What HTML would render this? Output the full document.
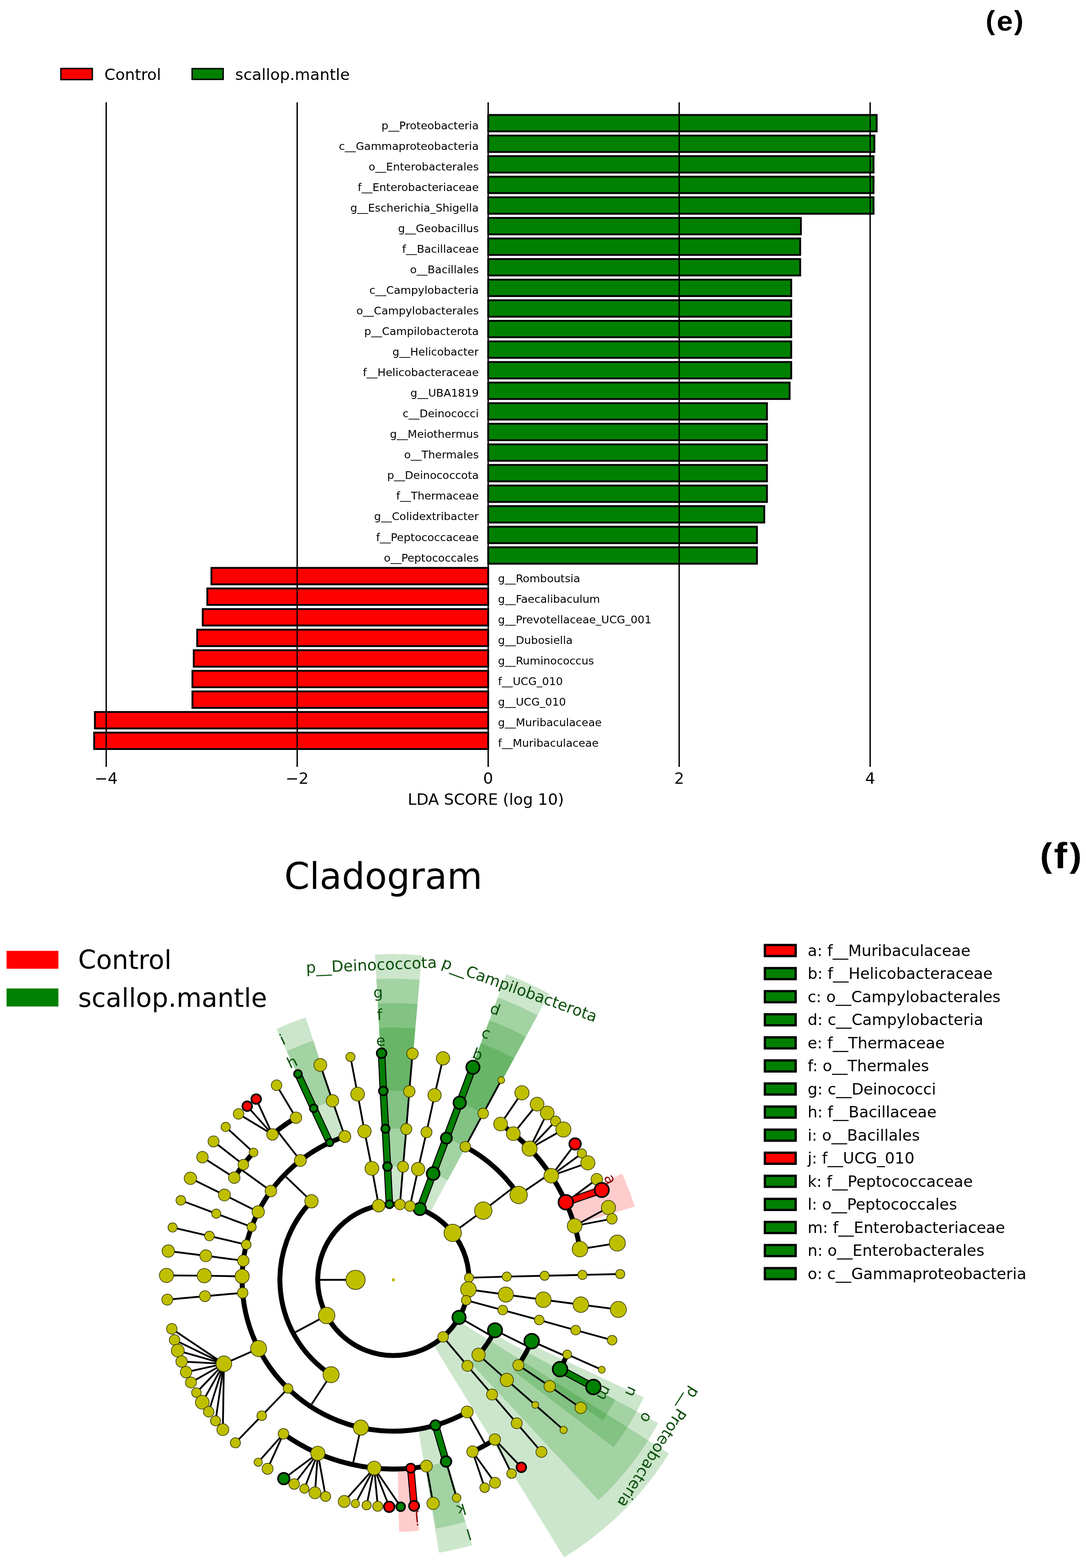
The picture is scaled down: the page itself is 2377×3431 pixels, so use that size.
<!DOCTYPE html>
<html><head><meta charset="utf-8"><title>LEfSe</title>
<style>html,body{margin:0;padding:0;background:#fff;}svg{display:block;}</style>
</head><body>
<svg xmlns="http://www.w3.org/2000/svg" width="2377" height="3431" viewBox="0 0 2377 3431">
<rect width="2377" height="3431" fill="#fff"/>
<g id="clado">
<path d="M875.43 2635.57 L923.14 2090.21 A713 713 0 0 0 820.7 2088.64 L851.64 2635.2 A165.56 165.56 0 0 1 875.43 2635.57 Z" fill="#008000" fill-opacity="0.2"/>
<path d="M882.64 2553.11 L918.44 2144.01 A659 659 0 0 0 823.75 2142.55 L846.96 2552.56 A248.34 248.34 0 0 1 882.64 2553.11 Z" fill="#008000" fill-opacity="0.2"/>
<path d="M889.86 2470.64 L913.77 2197.3 A605.5 605.5 0 0 0 826.78 2195.97 L842.29 2469.91 A331.12 331.12 0 0 1 889.86 2470.64 Z" fill="#008000" fill-opacity="0.2"/>
<path d="M897.07 2388.18 L909.11 2250.6 A552 552 0 0 0 829.8 2249.38 L837.61 2387.26 A413.9 413.9 0 0 1 897.07 2388.18 Z" fill="#008000" fill-opacity="0.2"/>
<path d="M940.25 2655.14 L1202.31 2174.5 A713 713 0 0 0 1108.37 2131.79 L918.44 2645.22 A165.56 165.56 0 0 1 940.25 2655.14 Z" fill="#008000" fill-opacity="0.2"/>
<path d="M979.88 2582.46 L1176.46 2221.91 A659 659 0 0 0 1089.63 2182.43 L947.16 2567.58 A248.34 248.34 0 0 1 979.88 2582.46 Z" fill="#008000" fill-opacity="0.2"/>
<path d="M1019.5 2509.78 L1150.85 2268.88 A605.5 605.5 0 0 0 1071.07 2232.61 L975.88 2489.95 A331.12 331.12 0 0 1 1019.5 2509.78 Z" fill="#008000" fill-opacity="0.2"/>
<path d="M1059.13 2437.1 L1125.24 2315.85 A552 552 0 0 0 1052.51 2282.79 L1004.6 2412.31 A413.9 413.9 0 0 1 1059.13 2437.1 Z" fill="#008000" fill-opacity="0.2"/>
<path d="M755.93 2486.49 L668.87 2226.29 A605.5 605.5 0 0 0 604.82 2251.86 L720.91 2500.48 A331.12 331.12 0 0 1 755.93 2486.49 Z" fill="#008000" fill-opacity="0.2"/>
<path d="M729.67 2407.99 L685.85 2277.03 A552 552 0 0 0 627.45 2300.34 L685.88 2425.47 A413.9 413.9 0 0 1 729.67 2407.99 Z" fill="#008000" fill-opacity="0.2"/>
<path d="M915.65 3127.08 L960.94 3397.7 A605.5 605.5 0 0 0 1033.48 3380.92 L955.32 3117.9 A331.12 331.12 0 0 1 915.65 3127.08 Z" fill="#008000" fill-opacity="0.2"/>
<path d="M930.74 3208.48 L954.01 3344.61 A552 552 0 0 0 1018.42 3329.58 L979.04 3197.21 A413.9 413.9 0 0 1 930.74 3208.48 Z" fill="#008000" fill-opacity="0.2"/>
<path d="M947.75 2941.51 L1234.6 3407.78 A713 713 0 0 0 1464.34 3180.44 L1001.1 2888.72 A165.56 165.56 0 0 1 947.75 2941.51 Z" fill="#008000" fill-opacity="0.2"/>
<path d="M1030.27 2982.21 L1310.18 3282.7 A659 659 0 0 0 1440.69 3113.94 L1079.45 2918.62 A248.34 248.34 0 0 1 1030.27 2982.21 Z" fill="#008000" fill-opacity="0.2"/>
<path d="M1124.75 3000.69 L1343.3 3166.58 A605.5 605.5 0 0 0 1409.1 3057.83 L1160.73 2941.22 A331.12 331.12 0 0 1 1124.75 3000.69 Z" fill="#008000" fill-opacity="0.2"/>
<path d="M1204.78 3030.99 L1319.49 3107.9 A552 552 0 0 0 1346.75 3062.71 L1225.22 2997.11 A413.9 413.9 0 0 1 1204.78 3030.99 Z" fill="#008000" fill-opacity="0.2"/>
<path d="M1257.03 2680.18 L1389.16 2640.03 A552 552 0 0 0 1361.69 2568.09 L1236.43 2626.23 A413.9 413.9 0 0 1 1257.03 2680.18 Z" fill="#ff0000" fill-opacity="0.2"/>
<path d="M870.39 3214.29 L873.52 3352.36 A552 552 0 0 0 917.74 3349.58 L903.55 3212.21 A413.9 413.9 0 0 1 870.39 3214.29 Z" fill="#ff0000" fill-opacity="0.2"/>
<g fill="none" stroke="#000" stroke-width="10.8">
<circle cx="861" cy="2800.5" r="165.56"/>
<path d="M681.76 2628.61 A248.34 248.34 0 0 0 724.58 3008.02"/>
<path d="M1047.43 2964.57 A248.34 248.34 0 0 0 1083.5 2910.8"/>
<path d="M1057.76 2648.98 A248.34 248.34 0 0 0 1055.76 2646.41"/>
<path d="M754.78 2486.88 A331.12 331.12 0 1 0 1022.54 3089.54"/>
<path d="M1135.19 2614.86 A331.12 331.12 0 0 0 1018.49 2509.23"/>
<path d="M1134.54 2987.09 A331.12 331.12 0 0 0 1163.75 2934.6"/>
<path d="M647.83 2445.72 A413.9 413.9 0 0 0 596.34 2482.28"/>
<path d="M554.96 2521.83 A413.9 413.9 0 0 0 512.7 2576.89"/>
<path d="M620.41 3137.29 A413.9 413.9 0 0 0 933.37 3208.02"/>
<path d="M1034.22 3176.41 A413.9 413.9 0 0 0 1083.08 3149.77"/>
<path d="M1269.4 2733.26 A413.9 413.9 0 0 0 1095.67 2459.56"/>
<path d="M1225.84 2995.96 A413.9 413.9 0 0 0 1241.4 2963.62"/>
</g>
<g stroke="#000" stroke-width="3.9" stroke-linecap="butt">
<line x1="778.22" y1="2800.5" x2="695.44" y2="2800.5"/>
<line x1="714.96" y1="2878.48" x2="641.93" y2="2917.47"/>
<line x1="1004.74" y1="2882.65" x2="1076.61" y2="2923.73"/>
<line x1="681.76" y1="2628.61" x2="622.01" y2="2571.32"/>
<line x1="724.58" y1="3008.02" x2="679.11" y2="3077.19"/>
<line x1="1057.76" y1="2648.98" x2="1123.34" y2="2598.47"/>
<line x1="1083.5" y1="2910.8" x2="1157.67" y2="2947.57"/>
<line x1="657.46" y1="2539.33" x2="606.58" y2="2474.03"/>
<line x1="592.91" y1="2606.15" x2="525.89" y2="2557.57"/>
<line x1="789.9" y1="3123.9" x2="772.12" y2="3204.74"/>
<line x1="1022.54" y1="3089.54" x2="1062.93" y2="3161.8"/>
<line x1="1135.19" y1="2614.86" x2="1203.73" y2="2568.45"/>
<line x1="1163.75" y1="2934.6" x2="1239.44" y2="2968.12"/>
<line x1="1026.5" y1="2795.88" x2="1109.24" y2="2793.39"/>
<line x1="1109.24" y1="2793.39" x2="1192" y2="2791.49"/>
<line x1="1192" y1="2791.49" x2="1274.76" y2="2789.67"/>
<line x1="1274.76" y1="2789.67" x2="1357.52" y2="2787.76"/>
<line x1="1025.23" y1="2821.48" x2="1107.24" y2="2832.7"/>
<line x1="1107.24" y1="2832.7" x2="1189.25" y2="2844.01"/>
<line x1="1189.25" y1="2844.01" x2="1271.33" y2="2854.74"/>
<line x1="1271.33" y1="2854.74" x2="1353.43" y2="2865.33"/>
<line x1="1020.42" y1="2845.16" x2="1100.4" y2="2866.53"/>
<line x1="1100.4" y1="2866.53" x2="1180.25" y2="2888.38"/>
<line x1="1180.25" y1="2888.38" x2="1260" y2="2910.55"/>
<line x1="1260" y1="2910.55" x2="1339.82" y2="2932.48"/>
<line x1="969.84" y1="2925.26" x2="1023.07" y2="2988.66"/>
<line x1="1023.07" y1="2988.66" x2="1077.05" y2="3051.42"/>
<line x1="1077.05" y1="3051.42" x2="1131.01" y2="3114.2"/>
<line x1="1131.01" y1="3114.2" x2="1185.02" y2="3176.94"/>
<line x1="897.4" y1="2638.99" x2="915.17" y2="2558.14"/>
<line x1="915.17" y1="2558.14" x2="933.51" y2="2477.42"/>
<line x1="933.51" y1="2477.42" x2="951.22" y2="2396.55"/>
<line x1="951.22" y1="2396.55" x2="969.69" y2="2315.86"/>
<line x1="875.43" y1="2635.57" x2="882.21" y2="2553.07"/>
<line x1="882.21" y1="2553.07" x2="889.28" y2="2470.59"/>
<line x1="889.28" y1="2470.59" x2="895.85" y2="2388.07"/>
<line x1="895.85" y1="2388.07" x2="902.82" y2="2305.58"/>
<line x1="828.84" y1="2638.09" x2="814.04" y2="2556.64"/>
<line x1="814.04" y1="2556.64" x2="797.82" y2="2475.46"/>
<line x1="797.82" y1="2475.46" x2="782.73" y2="2394.07"/>
<line x1="782.73" y1="2394.07" x2="767.08" y2="2312.78"/>
<line x1="990.84" y1="2697.78" x2="1057.76" y2="2648.98"/>
<line x1="1018.49" y1="2509.23" x2="1057.67" y2="2436.31"/>
<line x1="1057.67" y1="2436.31" x2="1097.08" y2="2363.51"/>
<line x1="1095.67" y1="2459.56" x2="1142.39" y2="2391.22"/>
<line x1="1123.55" y1="2480.53" x2="1175.59" y2="2416.15"/>
<line x1="1159.09" y1="2513.34" x2="1197.7" y2="2435.37"/>
<line x1="1159.09" y1="2513.34" x2="1215.99" y2="2453.12"/>
<line x1="1159.09" y1="2513.34" x2="1233.11" y2="2471.52"/>
<line x1="1206.58" y1="2572.72" x2="1258.76" y2="2503.05"/>
<line x1="1206.58" y1="2572.72" x2="1273.54" y2="2523.91"/>
<line x1="1206.58" y1="2572.72" x2="1286.65" y2="2544.54"/>
<line x1="1238.47" y1="2630.7" x2="1306.23" y2="2580.36"/>
<line x1="1257.71" y1="2682.46" x2="1331.77" y2="2642.16"/>
<line x1="1257.71" y1="2682.46" x2="1339.36" y2="2666.85"/>
<line x1="1269.4" y1="2733.26" x2="1351.12" y2="2720.06"/>
<line x1="1134.54" y1="2987.09" x2="1203.21" y2="3033.33"/>
<line x1="1203.21" y1="3033.33" x2="1271.16" y2="3080.61"/>
<line x1="1047.43" y1="2964.57" x2="1109.26" y2="3019.6"/>
<line x1="1109.26" y1="3019.6" x2="1171.47" y2="3074.22"/>
<line x1="1171.47" y1="3074.22" x2="1233.62" y2="3128.9"/>
<line x1="1241.4" y1="2963.62" x2="1317.11" y2="2997.12"/>
<line x1="754.78" y1="2486.88" x2="727.61" y2="2408.68"/>
<line x1="727.61" y1="2408.68" x2="701.1" y2="2330.26"/>
<line x1="565.19" y1="2651.72" x2="491.14" y2="2614.72"/>
<line x1="491.14" y1="2614.72" x2="416.81" y2="2578.26"/>
<line x1="550.77" y1="2684.76" x2="473.29" y2="2655.62"/>
<line x1="473.29" y1="2655.62" x2="395.8" y2="2626.48"/>
<line x1="538.99" y1="2723.37" x2="458.37" y2="2704.58"/>
<line x1="458.37" y1="2704.58" x2="377.74" y2="2685.82"/>
<line x1="532.53" y1="2758.66" x2="450.47" y2="2747.76"/>
<line x1="450.47" y1="2747.76" x2="368.33" y2="2737.48"/>
<line x1="529.97" y1="2792.87" x2="447.2" y2="2791.4"/>
<line x1="447.2" y1="2791.4" x2="364.42" y2="2790.71"/>
<line x1="531.1" y1="2828.96" x2="448.64" y2="2836.21"/>
<line x1="448.64" y1="2836.21" x2="366.2" y2="2843.7"/>
<line x1="630.44" y1="3038.17" x2="572.91" y2="3097.68"/>
<line x1="572.91" y1="3097.68" x2="515.23" y2="3157.06"/>
<line x1="647.83" y1="2445.72" x2="605.34" y2="2374.67"/>
<line x1="596.34" y1="2482.28" x2="560.71" y2="2404.88"/>
<line x1="596.34" y1="2482.28" x2="541.14" y2="2420.52"/>
<line x1="596.34" y1="2482.28" x2="522.14" y2="2437.37"/>
<line x1="554.96" y1="2521.83" x2="493.99" y2="2465.84"/>
<line x1="532.72" y1="2548.42" x2="467.38" y2="2497.59"/>
<line x1="512.7" y1="2576.89" x2="443.09" y2="2532.1"/>
<line x1="490.07" y1="2984.15" x2="376.02" y2="2907.66"/>
<line x1="490.07" y1="2984.15" x2="382.06" y2="2932.06"/>
<line x1="490.07" y1="2984.15" x2="389.09" y2="2955.38"/>
<line x1="490.07" y1="2984.15" x2="397.59" y2="2979.22"/>
<line x1="490.07" y1="2984.15" x2="407.19" y2="3002.36"/>
<line x1="490.07" y1="2984.15" x2="417.94" y2="3024.98"/>
<line x1="490.07" y1="2984.15" x2="429.91" y2="3047.19"/>
<line x1="490.07" y1="2984.15" x2="442.76" y2="3068.39"/>
<line x1="490.07" y1="2984.15" x2="456.8" y2="3089.14"/>
<line x1="490.07" y1="2984.15" x2="471.76" y2="3109.01"/>
<line x1="490.07" y1="2984.15" x2="487.75" y2="3128.18"/>
<line x1="565.97" y1="2950.83" x2="490.07" y2="2984.15"/>
<line x1="620.41" y1="3137.29" x2="565.15" y2="3199.45"/>
<line x1="620.41" y1="3137.29" x2="585.64" y2="3213.86"/>
<line x1="695.69" y1="3179.96" x2="621.19" y2="3235.45"/>
<line x1="695.69" y1="3179.96" x2="643.82" y2="3247.18"/>
<line x1="695.69" y1="3179.96" x2="666.21" y2="3257.39"/>
<line x1="695.69" y1="3179.96" x2="689.42" y2="3266.6"/>
<line x1="695.69" y1="3179.96" x2="712.72" y2="3274.53"/>
<line x1="819.1" y1="3212.27" x2="753.41" y2="3285.39"/>
<line x1="819.1" y1="3212.27" x2="777.83" y2="3290.17"/>
<line x1="819.1" y1="3212.27" x2="802.45" y2="3293.72"/>
<line x1="819.1" y1="3212.27" x2="826.79" y2="3296"/>
<line x1="819.1" y1="3212.27" x2="851.9" y2="3297.1"/>
<line x1="819.1" y1="3212.27" x2="876.95" y2="3296.92"/>
<line x1="933.37" y1="3208.02" x2="947.93" y2="3289.51"/>
<line x1="976.34" y1="3198.01" x2="999.32" y2="3277.53"/>
<line x1="1034.22" y1="3176.41" x2="1060.88" y2="3255.19"/>
<line x1="1034.22" y1="3176.41" x2="1083.47" y2="3244.57"/>
<line x1="1083.08" y1="3149.77" x2="1119.78" y2="3224.44"/>
<line x1="1083.08" y1="3149.77" x2="1141.11" y2="3210.66"/>
</g>
<line x1="918.98" y1="2645.42" x2="947.97" y2="2567.89" stroke="#000" stroke-width="16.4"/>
<line x1="947.97" y1="2567.89" x2="976.96" y2="2490.35" stroke="#000" stroke-width="16.4"/>
<line x1="976.96" y1="2490.35" x2="1006.15" y2="2412.89" stroke="#000" stroke-width="16.4"/>
<line x1="1006.15" y1="2412.89" x2="1035.1" y2="2335.33" stroke="#000" stroke-width="16.4"/>
<line x1="852.34" y1="2635.17" x2="848" y2="2552.5" stroke="#000" stroke-width="16.4"/>
<line x1="848" y1="2552.5" x2="843.67" y2="2469.83" stroke="#000" stroke-width="16.4"/>
<line x1="843.67" y1="2469.83" x2="839.05" y2="2387.18" stroke="#000" stroke-width="16.4"/>
<line x1="839.05" y1="2387.18" x2="835.18" y2="2304.49" stroke="#000" stroke-width="16.4"/>
<line x1="1238.47" y1="2630.7" x2="1317.11" y2="2603.88" stroke="#000" stroke-width="16.4"/>
<line x1="1225.84" y1="2995.96" x2="1298.85" y2="3034.98" stroke="#000" stroke-width="16.4"/>
<line x1="721.64" y1="2500.14" x2="686.73" y2="2425.07" stroke="#000" stroke-width="16.4"/>
<line x1="686.73" y1="2425.07" x2="652.12" y2="2349.88" stroke="#000" stroke-width="16.4"/>
<line x1="899.09" y1="3212.64" x2="906.36" y2="3295.1" stroke="#000" stroke-width="16.4"/>
<line x1="953.1" y1="3118.55" x2="976.34" y2="3198.01" stroke="#000" stroke-width="16.4"/>
<line x1="918.98" y1="2645.42" x2="947.97" y2="2567.89" stroke="#008000" stroke-width="12"/>
<line x1="947.97" y1="2567.89" x2="976.96" y2="2490.35" stroke="#008000" stroke-width="12"/>
<line x1="976.96" y1="2490.35" x2="1006.15" y2="2412.89" stroke="#008000" stroke-width="12"/>
<line x1="1006.15" y1="2412.89" x2="1035.1" y2="2335.33" stroke="#008000" stroke-width="12"/>
<line x1="852.34" y1="2635.17" x2="848" y2="2552.5" stroke="#008000" stroke-width="12"/>
<line x1="848" y1="2552.5" x2="843.67" y2="2469.83" stroke="#008000" stroke-width="12"/>
<line x1="843.67" y1="2469.83" x2="839.05" y2="2387.18" stroke="#008000" stroke-width="12"/>
<line x1="839.05" y1="2387.18" x2="835.18" y2="2304.49" stroke="#008000" stroke-width="12"/>
<line x1="1238.47" y1="2630.7" x2="1317.11" y2="2603.88" stroke="#ff0000" stroke-width="12"/>
<line x1="1225.84" y1="2995.96" x2="1298.85" y2="3034.98" stroke="#008000" stroke-width="12"/>
<line x1="721.64" y1="2500.14" x2="686.73" y2="2425.07" stroke="#008000" stroke-width="12"/>
<line x1="686.73" y1="2425.07" x2="652.12" y2="2349.88" stroke="#008000" stroke-width="12"/>
<line x1="899.09" y1="3212.64" x2="906.36" y2="3295.1" stroke="#ff0000" stroke-width="12"/>
<line x1="953.1" y1="3118.55" x2="976.34" y2="3198.01" stroke="#008000" stroke-width="12"/>
<circle cx="861" cy="2800.5" r="3.5" fill="#bfbf00"/>
<circle cx="778.22" cy="2800.5" r="21.05" fill="#bfbf00" stroke="#3d3d00" stroke-width="1.5"/>
<circle cx="1026.5" cy="2795.88" r="10.05" fill="#bfbf00" stroke="#3d3d00" stroke-width="1.5"/>
<circle cx="1109.24" cy="2793.39" r="10.05" fill="#bfbf00" stroke="#3d3d00" stroke-width="1.5"/>
<circle cx="1192" cy="2791.49" r="10.05" fill="#bfbf00" stroke="#3d3d00" stroke-width="1.5"/>
<circle cx="1274.76" cy="2789.67" r="10.05" fill="#bfbf00" stroke="#3d3d00" stroke-width="1.5"/>
<circle cx="1357.52" cy="2787.76" r="10.05" fill="#bfbf00" stroke="#3d3d00" stroke-width="1.5"/>
<circle cx="1025.23" cy="2821.48" r="17.05" fill="#bfbf00" stroke="#3d3d00" stroke-width="1.5"/>
<circle cx="1107.24" cy="2832.7" r="16.55" fill="#bfbf00" stroke="#3d3d00" stroke-width="1.5"/>
<circle cx="1189.25" cy="2844.01" r="17.05" fill="#bfbf00" stroke="#3d3d00" stroke-width="1.5"/>
<circle cx="1271.33" cy="2854.74" r="17.05" fill="#bfbf00" stroke="#3d3d00" stroke-width="1.5"/>
<circle cx="1353.43" cy="2865.33" r="17.55" fill="#bfbf00" stroke="#3d3d00" stroke-width="1.5"/>
<circle cx="1020.42" cy="2845.16" r="10.55" fill="#bfbf00" stroke="#3d3d00" stroke-width="1.5"/>
<circle cx="1100.4" cy="2866.53" r="10.55" fill="#bfbf00" stroke="#3d3d00" stroke-width="1.5"/>
<circle cx="1180.25" cy="2888.38" r="10.55" fill="#bfbf00" stroke="#3d3d00" stroke-width="1.5"/>
<circle cx="1260" cy="2910.55" r="10.55" fill="#bfbf00" stroke="#3d3d00" stroke-width="1.5"/>
<circle cx="1339.82" cy="2932.48" r="10.55" fill="#bfbf00" stroke="#3d3d00" stroke-width="1.5"/>
<circle cx="969.84" cy="2925.26" r="11.55" fill="#bfbf00" stroke="#3d3d00" stroke-width="1.5"/>
<circle cx="1023.07" cy="2988.66" r="12.05" fill="#bfbf00" stroke="#3d3d00" stroke-width="1.5"/>
<circle cx="1077.05" cy="3051.42" r="12.05" fill="#bfbf00" stroke="#3d3d00" stroke-width="1.5"/>
<circle cx="1131.01" cy="3114.2" r="12.05" fill="#bfbf00" stroke="#3d3d00" stroke-width="1.5"/>
<circle cx="1185.02" cy="3176.94" r="12.05" fill="#bfbf00" stroke="#3d3d00" stroke-width="1.5"/>
<circle cx="918.98" cy="2645.42" r="13.6" fill="#008000" stroke="#000" stroke-width="3.6"/>
<circle cx="947.97" cy="2567.89" r="14.1" fill="#008000" stroke="#000" stroke-width="3.6"/>
<circle cx="976.96" cy="2490.35" r="12.1" fill="#008000" stroke="#000" stroke-width="3.6"/>
<circle cx="1006.15" cy="2412.89" r="13.6" fill="#008000" stroke="#000" stroke-width="3.6"/>
<circle cx="1035.1" cy="2335.33" r="14.6" fill="#008000" stroke="#000" stroke-width="3.6"/>
<circle cx="897.4" cy="2638.99" r="11.55" fill="#bfbf00" stroke="#3d3d00" stroke-width="1.5"/>
<circle cx="915.17" cy="2558.14" r="14.55" fill="#bfbf00" stroke="#3d3d00" stroke-width="1.5"/>
<circle cx="933.51" cy="2477.42" r="12.05" fill="#bfbf00" stroke="#3d3d00" stroke-width="1.5"/>
<circle cx="951.22" cy="2396.55" r="14.55" fill="#bfbf00" stroke="#3d3d00" stroke-width="1.5"/>
<circle cx="969.69" cy="2315.86" r="14.55" fill="#bfbf00" stroke="#3d3d00" stroke-width="1.5"/>
<circle cx="875.43" cy="2635.57" r="11.55" fill="#bfbf00" stroke="#3d3d00" stroke-width="1.5"/>
<circle cx="882.21" cy="2553.07" r="12.05" fill="#bfbf00" stroke="#3d3d00" stroke-width="1.5"/>
<circle cx="889.28" cy="2470.59" r="12.05" fill="#bfbf00" stroke="#3d3d00" stroke-width="1.5"/>
<circle cx="895.85" cy="2388.07" r="12.55" fill="#bfbf00" stroke="#3d3d00" stroke-width="1.5"/>
<circle cx="902.82" cy="2305.58" r="12.55" fill="#bfbf00" stroke="#3d3d00" stroke-width="1.5"/>
<circle cx="852.34" cy="2635.17" r="8.8" fill="#008000" stroke="#000" stroke-width="3.6"/>
<circle cx="848" cy="2552.5" r="9.6" fill="#008000" stroke="#000" stroke-width="3.6"/>
<circle cx="843.67" cy="2469.83" r="9.1" fill="#008000" stroke="#000" stroke-width="3.6"/>
<circle cx="839.05" cy="2387.18" r="9.6" fill="#008000" stroke="#000" stroke-width="3.6"/>
<circle cx="835.18" cy="2304.49" r="10.6" fill="#008000" stroke="#000" stroke-width="3.6"/>
<circle cx="828.84" cy="2638.09" r="13.85" fill="#bfbf00" stroke="#3d3d00" stroke-width="1.5"/>
<circle cx="814.04" cy="2556.64" r="15.05" fill="#bfbf00" stroke="#3d3d00" stroke-width="1.5"/>
<circle cx="797.82" cy="2475.46" r="14.55" fill="#bfbf00" stroke="#3d3d00" stroke-width="1.5"/>
<circle cx="782.73" cy="2394.07" r="15.05" fill="#bfbf00" stroke="#3d3d00" stroke-width="1.5"/>
<circle cx="767.08" cy="2312.78" r="10.05" fill="#bfbf00" stroke="#3d3d00" stroke-width="1.5"/>
<circle cx="990.84" cy="2697.78" r="19.05" fill="#bfbf00" stroke="#3d3d00" stroke-width="1.5"/>
<circle cx="1057.76" cy="2648.98" r="19.05" fill="#bfbf00" stroke="#3d3d00" stroke-width="1.5"/>
<circle cx="1018.49" cy="2509.23" r="11.55" fill="#bfbf00" stroke="#3d3d00" stroke-width="1.5"/>
<circle cx="1135.19" cy="2614.86" r="19.05" fill="#bfbf00" stroke="#3d3d00" stroke-width="1.5"/>
<circle cx="1057.67" cy="2436.31" r="11.55" fill="#bfbf00" stroke="#3d3d00" stroke-width="1.5"/>
<circle cx="1097.08" cy="2363.51" r="7.55" fill="#bfbf00" stroke="#3d3d00" stroke-width="1.5"/>
<circle cx="1095.67" cy="2459.56" r="15.05" fill="#bfbf00" stroke="#3d3d00" stroke-width="1.5"/>
<circle cx="1142.39" cy="2391.22" r="15.55" fill="#bfbf00" stroke="#3d3d00" stroke-width="1.5"/>
<circle cx="1123.55" cy="2480.53" r="15.05" fill="#bfbf00" stroke="#3d3d00" stroke-width="1.5"/>
<circle cx="1175.59" cy="2416.15" r="15.05" fill="#bfbf00" stroke="#3d3d00" stroke-width="1.5"/>
<circle cx="1159.09" cy="2513.34" r="16.55" fill="#bfbf00" stroke="#3d3d00" stroke-width="1.5"/>
<circle cx="1197.7" cy="2435.37" r="15.05" fill="#bfbf00" stroke="#3d3d00" stroke-width="1.5"/>
<circle cx="1215.99" cy="2453.12" r="11.05" fill="#bfbf00" stroke="#3d3d00" stroke-width="1.5"/>
<circle cx="1233.11" cy="2471.52" r="16.55" fill="#bfbf00" stroke="#3d3d00" stroke-width="1.5"/>
<circle cx="1206.58" cy="2572.72" r="16.05" fill="#bfbf00" stroke="#3d3d00" stroke-width="1.5"/>
<circle cx="1258.76" cy="2503.05" r="12.6" fill="#ff0000" stroke="#000" stroke-width="3.6"/>
<circle cx="1273.54" cy="2523.91" r="10.05" fill="#bfbf00" stroke="#3d3d00" stroke-width="1.5"/>
<circle cx="1286.65" cy="2544.54" r="15.55" fill="#bfbf00" stroke="#3d3d00" stroke-width="1.5"/>
<circle cx="1238.47" cy="2630.7" r="16.1" fill="#ff0000" stroke="#000" stroke-width="3.6"/>
<circle cx="1306.23" cy="2580.36" r="12.55" fill="#bfbf00" stroke="#3d3d00" stroke-width="1.5"/>
<circle cx="1317.11" cy="2603.88" r="15.6" fill="#ff0000" stroke="#000" stroke-width="3.6"/>
<circle cx="1257.71" cy="2682.46" r="16.05" fill="#bfbf00" stroke="#3d3d00" stroke-width="1.5"/>
<circle cx="1331.77" cy="2642.16" r="15.55" fill="#bfbf00" stroke="#3d3d00" stroke-width="1.5"/>
<circle cx="1339.36" cy="2666.85" r="11.55" fill="#bfbf00" stroke="#3d3d00" stroke-width="1.5"/>
<circle cx="1269.4" cy="2733.26" r="17.05" fill="#bfbf00" stroke="#3d3d00" stroke-width="1.5"/>
<circle cx="1351.12" cy="2720.06" r="17.55" fill="#bfbf00" stroke="#3d3d00" stroke-width="1.5"/>
<circle cx="1004.74" cy="2882.65" r="14.6" fill="#008000" stroke="#000" stroke-width="3.6"/>
<circle cx="1083.5" cy="2910.8" r="15.6" fill="#008000" stroke="#000" stroke-width="3.6"/>
<circle cx="1047.43" cy="2964.57" r="14.55" fill="#bfbf00" stroke="#3d3d00" stroke-width="1.5"/>
<circle cx="1163.75" cy="2934.6" r="16.1" fill="#008000" stroke="#000" stroke-width="3.6"/>
<circle cx="1134.54" cy="2987.09" r="12.05" fill="#bfbf00" stroke="#3d3d00" stroke-width="1.5"/>
<circle cx="1203.21" cy="3033.33" r="12.55" fill="#bfbf00" stroke="#3d3d00" stroke-width="1.5"/>
<circle cx="1271.16" cy="3080.61" r="12.55" fill="#bfbf00" stroke="#3d3d00" stroke-width="1.5"/>
<circle cx="1109.26" cy="3019.6" r="14.55" fill="#bfbf00" stroke="#3d3d00" stroke-width="1.5"/>
<circle cx="1171.47" cy="3074.22" r="7.55" fill="#bfbf00" stroke="#3d3d00" stroke-width="1.5"/>
<circle cx="1233.62" cy="3128.9" r="8.05" fill="#bfbf00" stroke="#3d3d00" stroke-width="1.5"/>
<circle cx="1241.4" cy="2963.62" r="9.55" fill="#bfbf00" stroke="#3d3d00" stroke-width="1.5"/>
<circle cx="1317.11" cy="2997.12" r="7.55" fill="#bfbf00" stroke="#3d3d00" stroke-width="1.5"/>
<circle cx="1225.84" cy="2995.96" r="16.1" fill="#008000" stroke="#000" stroke-width="3.6"/>
<circle cx="1298.85" cy="3034.98" r="16.1" fill="#008000" stroke="#000" stroke-width="3.6"/>
<circle cx="714.96" cy="2878.48" r="18.05" fill="#bfbf00" stroke="#3d3d00" stroke-width="1.5"/>
<circle cx="681.76" cy="2628.61" r="14.55" fill="#bfbf00" stroke="#3d3d00" stroke-width="1.5"/>
<circle cx="724.58" cy="3008.02" r="17.55" fill="#bfbf00" stroke="#3d3d00" stroke-width="1.5"/>
<circle cx="754.78" cy="2486.88" r="13.05" fill="#bfbf00" stroke="#3d3d00" stroke-width="1.5"/>
<circle cx="727.61" cy="2408.68" r="13.55" fill="#bfbf00" stroke="#3d3d00" stroke-width="1.5"/>
<circle cx="701.1" cy="2330.26" r="14.05" fill="#bfbf00" stroke="#3d3d00" stroke-width="1.5"/>
<circle cx="721.64" cy="2500.14" r="8.1" fill="#008000" stroke="#000" stroke-width="3.6"/>
<circle cx="686.73" cy="2425.07" r="8.6" fill="#008000" stroke="#000" stroke-width="3.6"/>
<circle cx="652.12" cy="2349.88" r="8.6" fill="#008000" stroke="#000" stroke-width="3.6"/>
<circle cx="565.19" cy="2651.72" r="13.55" fill="#bfbf00" stroke="#3d3d00" stroke-width="1.5"/>
<circle cx="491.14" cy="2614.72" r="13.05" fill="#bfbf00" stroke="#3d3d00" stroke-width="1.5"/>
<circle cx="416.81" cy="2578.26" r="13.55" fill="#bfbf00" stroke="#3d3d00" stroke-width="1.5"/>
<circle cx="550.77" cy="2684.76" r="10.05" fill="#bfbf00" stroke="#3d3d00" stroke-width="1.5"/>
<circle cx="473.29" cy="2655.62" r="10.05" fill="#bfbf00" stroke="#3d3d00" stroke-width="1.5"/>
<circle cx="395.8" cy="2626.48" r="10.55" fill="#bfbf00" stroke="#3d3d00" stroke-width="1.5"/>
<circle cx="538.99" cy="2723.37" r="10.55" fill="#bfbf00" stroke="#3d3d00" stroke-width="1.5"/>
<circle cx="458.37" cy="2704.58" r="10.55" fill="#bfbf00" stroke="#3d3d00" stroke-width="1.5"/>
<circle cx="377.74" cy="2685.82" r="10.05" fill="#bfbf00" stroke="#3d3d00" stroke-width="1.5"/>
<circle cx="532.53" cy="2758.66" r="12.55" fill="#bfbf00" stroke="#3d3d00" stroke-width="1.5"/>
<circle cx="450.47" cy="2747.76" r="13.05" fill="#bfbf00" stroke="#3d3d00" stroke-width="1.5"/>
<circle cx="368.33" cy="2737.48" r="13.55" fill="#bfbf00" stroke="#3d3d00" stroke-width="1.5"/>
<circle cx="529.97" cy="2792.87" r="15.55" fill="#bfbf00" stroke="#3d3d00" stroke-width="1.5"/>
<circle cx="447.2" cy="2791.4" r="15.55" fill="#bfbf00" stroke="#3d3d00" stroke-width="1.5"/>
<circle cx="364.42" cy="2790.71" r="15.55" fill="#bfbf00" stroke="#3d3d00" stroke-width="1.5"/>
<circle cx="531.1" cy="2828.96" r="11.55" fill="#bfbf00" stroke="#3d3d00" stroke-width="1.5"/>
<circle cx="448.64" cy="2836.21" r="12.05" fill="#bfbf00" stroke="#3d3d00" stroke-width="1.5"/>
<circle cx="366.2" cy="2843.7" r="12.05" fill="#bfbf00" stroke="#3d3d00" stroke-width="1.5"/>
<circle cx="630.44" cy="3038.17" r="10.55" fill="#bfbf00" stroke="#3d3d00" stroke-width="1.5"/>
<circle cx="572.91" cy="3097.68" r="10.55" fill="#bfbf00" stroke="#3d3d00" stroke-width="1.5"/>
<circle cx="515.23" cy="3157.06" r="11.05" fill="#bfbf00" stroke="#3d3d00" stroke-width="1.5"/>
<circle cx="657.46" cy="2539.33" r="13.05" fill="#bfbf00" stroke="#3d3d00" stroke-width="1.5"/>
<circle cx="647.83" cy="2445.72" r="12.55" fill="#bfbf00" stroke="#3d3d00" stroke-width="1.5"/>
<circle cx="605.34" cy="2374.67" r="11.55" fill="#bfbf00" stroke="#3d3d00" stroke-width="1.5"/>
<circle cx="596.34" cy="2482.28" r="12.55" fill="#bfbf00" stroke="#3d3d00" stroke-width="1.5"/>
<circle cx="560.71" cy="2404.88" r="10.6" fill="#ff0000" stroke="#000" stroke-width="3.6"/>
<circle cx="541.14" cy="2420.52" r="10.6" fill="#ff0000" stroke="#000" stroke-width="3.6"/>
<circle cx="522.14" cy="2437.37" r="11.55" fill="#bfbf00" stroke="#3d3d00" stroke-width="1.5"/>
<circle cx="592.91" cy="2606.15" r="12.55" fill="#bfbf00" stroke="#3d3d00" stroke-width="1.5"/>
<circle cx="554.96" cy="2521.83" r="9.55" fill="#bfbf00" stroke="#3d3d00" stroke-width="1.5"/>
<circle cx="493.99" cy="2465.84" r="10.05" fill="#bfbf00" stroke="#3d3d00" stroke-width="1.5"/>
<circle cx="532.72" cy="2548.42" r="11.55" fill="#bfbf00" stroke="#3d3d00" stroke-width="1.5"/>
<circle cx="467.38" cy="2497.59" r="12.05" fill="#bfbf00" stroke="#3d3d00" stroke-width="1.5"/>
<circle cx="512.7" cy="2576.89" r="12.55" fill="#bfbf00" stroke="#3d3d00" stroke-width="1.5"/>
<circle cx="443.09" cy="2532.1" r="12.55" fill="#bfbf00" stroke="#3d3d00" stroke-width="1.5"/>
<circle cx="565.97" cy="2950.83" r="17.55" fill="#bfbf00" stroke="#3d3d00" stroke-width="1.5"/>
<circle cx="490.07" cy="2984.15" r="17.05" fill="#bfbf00" stroke="#3d3d00" stroke-width="1.5"/>
<circle cx="376.02" cy="2907.66" r="11.55" fill="#bfbf00" stroke="#3d3d00" stroke-width="1.5"/>
<circle cx="382.06" cy="2932.06" r="11.55" fill="#bfbf00" stroke="#3d3d00" stroke-width="1.5"/>
<circle cx="389.09" cy="2955.38" r="14.05" fill="#bfbf00" stroke="#3d3d00" stroke-width="1.5"/>
<circle cx="397.59" cy="2979.22" r="12.55" fill="#bfbf00" stroke="#3d3d00" stroke-width="1.5"/>
<circle cx="407.19" cy="3002.36" r="12.55" fill="#bfbf00" stroke="#3d3d00" stroke-width="1.5"/>
<circle cx="417.94" cy="3024.98" r="12.05" fill="#bfbf00" stroke="#3d3d00" stroke-width="1.5"/>
<circle cx="429.91" cy="3047.19" r="10.55" fill="#bfbf00" stroke="#3d3d00" stroke-width="1.5"/>
<circle cx="442.76" cy="3068.39" r="15.05" fill="#bfbf00" stroke="#3d3d00" stroke-width="1.5"/>
<circle cx="456.8" cy="3089.14" r="11.55" fill="#bfbf00" stroke="#3d3d00" stroke-width="1.5"/>
<circle cx="471.76" cy="3109.01" r="11.05" fill="#bfbf00" stroke="#3d3d00" stroke-width="1.5"/>
<circle cx="487.75" cy="3128.18" r="13.05" fill="#bfbf00" stroke="#3d3d00" stroke-width="1.5"/>
<circle cx="789.9" cy="3123.9" r="16.55" fill="#bfbf00" stroke="#3d3d00" stroke-width="1.5"/>
<circle cx="620.41" cy="3137.29" r="11.55" fill="#bfbf00" stroke="#3d3d00" stroke-width="1.5"/>
<circle cx="565.15" cy="3199.45" r="9.05" fill="#bfbf00" stroke="#3d3d00" stroke-width="1.5"/>
<circle cx="585.64" cy="3213.86" r="12.05" fill="#bfbf00" stroke="#3d3d00" stroke-width="1.5"/>
<circle cx="695.69" cy="3179.96" r="15.55" fill="#bfbf00" stroke="#3d3d00" stroke-width="1.5"/>
<circle cx="621.19" cy="3235.45" r="12.6" fill="#008000" stroke="#000" stroke-width="3.6"/>
<circle cx="643.82" cy="3247.18" r="11.55" fill="#bfbf00" stroke="#3d3d00" stroke-width="1.5"/>
<circle cx="666.21" cy="3257.39" r="10.05" fill="#bfbf00" stroke="#3d3d00" stroke-width="1.5"/>
<circle cx="689.42" cy="3266.6" r="13.05" fill="#bfbf00" stroke="#3d3d00" stroke-width="1.5"/>
<circle cx="712.72" cy="3274.53" r="11.05" fill="#bfbf00" stroke="#3d3d00" stroke-width="1.5"/>
<circle cx="819.1" cy="3212.27" r="15.05" fill="#bfbf00" stroke="#3d3d00" stroke-width="1.5"/>
<circle cx="753.41" cy="3285.39" r="13.05" fill="#bfbf00" stroke="#3d3d00" stroke-width="1.5"/>
<circle cx="777.83" cy="3290.17" r="9.05" fill="#bfbf00" stroke="#3d3d00" stroke-width="1.5"/>
<circle cx="802.45" cy="3293.72" r="10.05" fill="#bfbf00" stroke="#3d3d00" stroke-width="1.5"/>
<circle cx="826.79" cy="3296" r="11.05" fill="#bfbf00" stroke="#3d3d00" stroke-width="1.5"/>
<circle cx="851.9" cy="3297.1" r="11.6" fill="#ff0000" stroke="#000" stroke-width="3.6"/>
<circle cx="876.95" cy="3296.92" r="9.6" fill="#008000" stroke="#000" stroke-width="3.6"/>
<circle cx="899.09" cy="3212.64" r="10.1" fill="#ff0000" stroke="#000" stroke-width="3.6"/>
<circle cx="906.36" cy="3295.1" r="11.1" fill="#ff0000" stroke="#000" stroke-width="3.6"/>
<circle cx="933.37" cy="3208.02" r="13.05" fill="#bfbf00" stroke="#3d3d00" stroke-width="1.5"/>
<circle cx="947.93" cy="3289.51" r="13.55" fill="#bfbf00" stroke="#3d3d00" stroke-width="1.5"/>
<circle cx="953.1" cy="3118.55" r="11.1" fill="#008000" stroke="#000" stroke-width="3.6"/>
<circle cx="976.34" cy="3198.01" r="11.6" fill="#008000" stroke="#000" stroke-width="3.6"/>
<circle cx="999.32" cy="3277.53" r="9.55" fill="#bfbf00" stroke="#3d3d00" stroke-width="1.5"/>
<circle cx="1022.54" cy="3089.54" r="13.05" fill="#bfbf00" stroke="#3d3d00" stroke-width="1.5"/>
<circle cx="1034.22" cy="3176.41" r="12.55" fill="#bfbf00" stroke="#3d3d00" stroke-width="1.5"/>
<circle cx="1060.88" cy="3255.19" r="10.55" fill="#bfbf00" stroke="#3d3d00" stroke-width="1.5"/>
<circle cx="1083.47" cy="3244.57" r="12.05" fill="#bfbf00" stroke="#3d3d00" stroke-width="1.5"/>
<circle cx="1083.08" cy="3149.77" r="12.55" fill="#bfbf00" stroke="#3d3d00" stroke-width="1.5"/>
<circle cx="1119.78" cy="3224.44" r="10.55" fill="#bfbf00" stroke="#3d3d00" stroke-width="1.5"/>
<circle cx="1141.11" cy="3210.66" r="10.6" fill="#ff0000" stroke="#000" stroke-width="3.6"/>
<g font-family="DejaVu Sans, sans-serif" font-size="33" text-anchor="middle">
<text x="833.19" y="2276.84" fill="#0a4d0a" dominant-baseline="central" transform="rotate(-3.04 833.19 2276.84)">e</text>
<text x="830.7" y="2220.39" fill="#0a4d0a" dominant-baseline="central" transform="rotate(-2.99 830.7 2220.39)">f</text>
<text x="827.7" y="2171.48" fill="#0a4d0a" dominant-baseline="central" transform="rotate(-3.03 827.7 2171.48)">g</text>
<text x="1045.56" y="2306.87" fill="#0a4d0a" dominant-baseline="central" transform="rotate(20.5 1045.56 2306.87)">b</text>
<text x="1064.01" y="2260.39" fill="#0a4d0a" dominant-baseline="central" transform="rotate(20.6 1064.01 2260.39)">c</text>
<text x="1084.13" y="2208.13" fill="#0a4d0a" dominant-baseline="central" transform="rotate(20.64 1084.13 2208.13)">d</text>
<text x="639.45" y="2323.87" fill="#0a4d0a" dominant-baseline="central" transform="rotate(-24.93 639.45 2323.87)">h</text>
<text x="618.18" y="2274.99" fill="#0a4d0a" dominant-baseline="central" transform="rotate(-24.8 618.18 2274.99)">i</text>
<text x="1009.82" y="3303.24" fill="#0a4d0a" dominant-baseline="central" transform="rotate(163.51 1009.82 3303.24)">k</text>
<text x="1026.16" y="3357.01" fill="#0a4d0a" dominant-baseline="central" transform="rotate(163.47 1026.16 3357.01)">l</text>
<text x="1322.76" y="3048.41" fill="#0a4d0a" dominant-baseline="central" transform="rotate(118.23 1322.76 3048.41)">m</text>
<text x="1382.3" y="3045.25" fill="#0a4d0a" dominant-baseline="central" transform="rotate(115.15 1382.3 3045.25)">n</text>
<text x="1414.85" y="3102.22" fill="#0a4d0a" dominant-baseline="central" transform="rotate(118.58 1414.85 3102.22)">o</text>
<text x="1335.93" y="2580.05" fill="#8b0000" dominant-baseline="central" transform="rotate(65.1 1335.93 2580.05)">a</text>
<text x="912.93" y="3324.43" fill="#8b0000" dominant-baseline="central" transform="rotate(174.34 912.93 3324.43)">j</text>
</g>
</g>
<g font-family="DejaVu Sans, sans-serif" font-size="34" fill="#0a4d0a" text-anchor="middle">
<text x="813.4" y="2123.3" transform="rotate(-2.33 813.4 2123.3)">p__Deinococcota</text>
<text x="1133.4" y="2176.3" transform="rotate(19.7 1133.4 2176.3)">p__Campilobacterota</text>
<text x="1431.7" y="3160.8" transform="rotate(122.5 1431.7 3160.8)">p__Proteobacteria</text>
</g>
<g id="bars">
<line x1="232.4" y1="224" x2="232.4" y2="1678" stroke="#000" stroke-width="2.7"/>
<line x1="650.4" y1="224" x2="650.4" y2="1678" stroke="#000" stroke-width="2.7"/>
<line x1="1068.5" y1="224" x2="1068.5" y2="1678" stroke="#000" stroke-width="2.7"/>
<line x1="1486.6" y1="224" x2="1486.6" y2="1678" stroke="#000" stroke-width="2.7"/>
<line x1="1904.6" y1="224" x2="1904.6" y2="1678" stroke="#000" stroke-width="2.7"/>
<rect x="1068.5" y="251.5" width="850.3" height="36" fill="#008000" stroke="#000" stroke-width="4"/>
<rect x="1068.5" y="296.6" width="845.3" height="36" fill="#008000" stroke="#000" stroke-width="4"/>
<rect x="1068.5" y="341.6" width="843.5" height="36" fill="#008000" stroke="#000" stroke-width="4"/>
<rect x="1068.5" y="386.6" width="843.5" height="36" fill="#008000" stroke="#000" stroke-width="4"/>
<rect x="1068.5" y="431.7" width="843.5" height="36" fill="#008000" stroke="#000" stroke-width="4"/>
<rect x="1068.5" y="476.8" width="684.4" height="36" fill="#008000" stroke="#000" stroke-width="4"/>
<rect x="1068.5" y="521.8" width="682.9" height="36" fill="#008000" stroke="#000" stroke-width="4"/>
<rect x="1068.5" y="566.8" width="682.9" height="36" fill="#008000" stroke="#000" stroke-width="4"/>
<rect x="1068.5" y="611.9" width="663.3" height="36" fill="#008000" stroke="#000" stroke-width="4"/>
<rect x="1068.5" y="657" width="663.3" height="36" fill="#008000" stroke="#000" stroke-width="4"/>
<rect x="1068.5" y="702" width="663.3" height="36" fill="#008000" stroke="#000" stroke-width="4"/>
<rect x="1068.5" y="747" width="663.3" height="36" fill="#008000" stroke="#000" stroke-width="4"/>
<rect x="1068.5" y="792.1" width="663.3" height="36" fill="#008000" stroke="#000" stroke-width="4"/>
<rect x="1068.5" y="837.1" width="659.8" height="36" fill="#008000" stroke="#000" stroke-width="4"/>
<rect x="1068.5" y="882.2" width="610.2" height="36" fill="#008000" stroke="#000" stroke-width="4"/>
<rect x="1068.5" y="927.2" width="610.2" height="36" fill="#008000" stroke="#000" stroke-width="4"/>
<rect x="1068.5" y="972.3" width="610.2" height="36" fill="#008000" stroke="#000" stroke-width="4"/>
<rect x="1068.5" y="1017.3" width="610.2" height="36" fill="#008000" stroke="#000" stroke-width="4"/>
<rect x="1068.5" y="1062.4" width="610.2" height="36" fill="#008000" stroke="#000" stroke-width="4"/>
<rect x="1068.5" y="1107.4" width="604.3" height="36" fill="#008000" stroke="#000" stroke-width="4"/>
<rect x="1068.5" y="1152.5" width="588.3" height="36" fill="#008000" stroke="#000" stroke-width="4"/>
<rect x="1068.5" y="1197.5" width="588.3" height="36" fill="#008000" stroke="#000" stroke-width="4"/>
<rect x="462.7" y="1242.6" width="605.8" height="36" fill="#ff0000" stroke="#000" stroke-width="4"/>
<rect x="453.7" y="1287.6" width="614.8" height="36" fill="#ff0000" stroke="#000" stroke-width="4"/>
<rect x="443.7" y="1332.7" width="624.8" height="36" fill="#ff0000" stroke="#000" stroke-width="4"/>
<rect x="431.6" y="1377.8" width="636.9" height="36" fill="#ff0000" stroke="#000" stroke-width="4"/>
<rect x="424" y="1422.8" width="644.5" height="36" fill="#ff0000" stroke="#000" stroke-width="4"/>
<rect x="421.2" y="1467.8" width="647.3" height="36" fill="#ff0000" stroke="#000" stroke-width="4"/>
<rect x="421.2" y="1512.9" width="647.3" height="36" fill="#ff0000" stroke="#000" stroke-width="4"/>
<rect x="207.7" y="1557.9" width="860.8" height="36" fill="#ff0000" stroke="#000" stroke-width="4"/>
<rect x="206.1" y="1603" width="862.4" height="36" fill="#ff0000" stroke="#000" stroke-width="4"/>
<line x1="232.4" y1="224" x2="232.4" y2="1678" stroke="#000" stroke-width="2.7"/>
<line x1="650.4" y1="224" x2="650.4" y2="1678" stroke="#000" stroke-width="2.7"/>
<line x1="1068.5" y1="224" x2="1068.5" y2="1678" stroke="#000" stroke-width="2.7"/>
<line x1="1486.6" y1="224" x2="1486.6" y2="1678" stroke="#000" stroke-width="2.7"/>
<line x1="1904.6" y1="224" x2="1904.6" y2="1678" stroke="#000" stroke-width="2.7"/>
<g font-family="DejaVu Sans, sans-serif" font-size="23.8" fill="#000">
<text x="1047.8" y="282.5" text-anchor="end">p__Proteobacteria</text>
<text x="1047.8" y="327.6" text-anchor="end">c__Gammaproteobacteria</text>
<text x="1047.8" y="372.6" text-anchor="end">o__Enterobacterales</text>
<text x="1047.8" y="417.6" text-anchor="end">f__Enterobacteriaceae</text>
<text x="1047.8" y="462.7" text-anchor="end">g__Escherichia_Shigella</text>
<text x="1047.8" y="507.8" text-anchor="end">g__Geobacillus</text>
<text x="1047.8" y="552.8" text-anchor="end">f__Bacillaceae</text>
<text x="1047.8" y="597.8" text-anchor="end">o__Bacillales</text>
<text x="1047.8" y="642.9" text-anchor="end">c__Campylobacteria</text>
<text x="1047.8" y="688" text-anchor="end">o__Campylobacterales</text>
<text x="1047.8" y="733" text-anchor="end">p__Campilobacterota</text>
<text x="1047.8" y="778" text-anchor="end">g__Helicobacter</text>
<text x="1047.8" y="823.1" text-anchor="end">f__Helicobacteraceae</text>
<text x="1047.8" y="868.1" text-anchor="end">g__UBA1819</text>
<text x="1047.8" y="913.2" text-anchor="end">c__Deinococci</text>
<text x="1047.8" y="958.2" text-anchor="end">g__Meiothermus</text>
<text x="1047.8" y="1003.3" text-anchor="end">o__Thermales</text>
<text x="1047.8" y="1048.3" text-anchor="end">p__Deinococcota</text>
<text x="1047.8" y="1093.4" text-anchor="end">f__Thermaceae</text>
<text x="1047.8" y="1138.4" text-anchor="end">g__Colidextribacter</text>
<text x="1047.8" y="1183.5" text-anchor="end">f__Peptococcaceae</text>
<text x="1047.8" y="1228.5" text-anchor="end">o__Peptococcales</text>
<text x="1090" y="1273.6">g__Romboutsia</text>
<text x="1090" y="1318.6">g__Faecalibaculum</text>
<text x="1090" y="1363.7">g__Prevotellaceae_UCG_001</text>
<text x="1090" y="1408.8">g__Dubosiella</text>
<text x="1090" y="1453.8">g__Ruminococcus</text>
<text x="1090" y="1498.8">f__UCG_010</text>
<text x="1090" y="1543.9">g__UCG_010</text>
<text x="1090" y="1588.9">g__Muribaculaceae</text>
<text x="1090" y="1634">f__Muribaculaceae</text>
</g>
<g font-family="DejaVu Sans, sans-serif" font-size="34.3" fill="#000" text-anchor="middle">
<text x="232.4" y="1714.8">−4</text>
<text x="650.4" y="1714.8">−2</text>
<text x="1068.5" y="1714.8">0</text>
<text x="1486.6" y="1714.8">2</text>
<text x="1904.6" y="1714.8">4</text>
<text x="1063.4" y="1761.2">LDA SCORE (log 10)</text>
</g>
<rect x="133.2" y="149.9" width="68.9" height="24.3" fill="#ff0000" stroke="#000" stroke-width="3"/>
<rect x="420.5" y="150.1" width="68" height="23.6" fill="#008000" stroke="#000" stroke-width="3"/>
<g font-family="DejaVu Sans, sans-serif" font-size="34.3" fill="#000">
<text x="228.6" y="174.8">Control</text>
<text x="514.8" y="174.5">scallop.mantle</text>
</g>
</g>
<g font-family="'Liberation Sans', Arial, sans-serif" font-weight="bold" fill="#000">
<text x="2157.35 2180.24 2216.03" y="64.56 67.3 64.56" font-size="58.7" transform="translate(2160 0) scale(1.06 1) translate(-2160 0)">(<tspan font-size="60.2">e</tspan>)</text>
<text x="2276.52 2304.58 2336.06" y="1896.97 1899.6 1896.97" font-size="73.2" transform="translate(2280 0) scale(1.09 1) translate(-2280 0)">(<tspan font-size="80.1">f</tspan>)</text>
</g>
<text x="622.2" y="1944.6" font-family="DejaVu Sans, sans-serif" font-size="79.3" fill="#000">Cladogram</text>
<rect x="14.3" y="2080.6" width="113.5" height="39.1" fill="#ff0000"/>
<rect x="14.3" y="2162.9" width="113.5" height="39.5" fill="#008000"/>
<g font-family="DejaVu Sans, sans-serif" font-size="56.6" fill="#000">
<text x="170.9" y="2120.3">Control</text>
<text x="170.9" y="2202.6">scallop.mantle</text>
</g>
<g font-family="DejaVu Sans, sans-serif" font-size="33.9" fill="#000">
<rect x="1674.1" y="2067.8" width="67.4" height="24.2" fill="#ff0000" stroke="#000" stroke-width="5"/>
<text x="1767.7" y="2091.9">a: f__Muribaculaceae</text>
<rect x="1674.1" y="2118.3" width="67.4" height="24.2" fill="#008000" stroke="#000" stroke-width="5"/>
<text x="1767.7" y="2142.4">b: f__Helicobacteraceae</text>
<rect x="1674.1" y="2168.8" width="67.4" height="24.2" fill="#008000" stroke="#000" stroke-width="5"/>
<text x="1767.7" y="2192.9">c: o__Campylobacterales</text>
<rect x="1674.1" y="2219.3" width="67.4" height="24.2" fill="#008000" stroke="#000" stroke-width="5"/>
<text x="1767.7" y="2243.4">d: c__Campylobacteria</text>
<rect x="1674.1" y="2269.8" width="67.4" height="24.2" fill="#008000" stroke="#000" stroke-width="5"/>
<text x="1767.7" y="2293.9">e: f__Thermaceae</text>
<rect x="1674.1" y="2320.3" width="67.4" height="24.2" fill="#008000" stroke="#000" stroke-width="5"/>
<text x="1767.7" y="2344.4">f: o__Thermales</text>
<rect x="1674.1" y="2370.8" width="67.4" height="24.2" fill="#008000" stroke="#000" stroke-width="5"/>
<text x="1767.7" y="2394.9">g: c__Deinococci</text>
<rect x="1674.1" y="2421.3" width="67.4" height="24.2" fill="#008000" stroke="#000" stroke-width="5"/>
<text x="1767.7" y="2445.4">h: f__Bacillaceae</text>
<rect x="1674.1" y="2471.8" width="67.4" height="24.2" fill="#008000" stroke="#000" stroke-width="5"/>
<text x="1767.7" y="2495.9">i: o__Bacillales</text>
<rect x="1674.1" y="2522.3" width="67.4" height="24.2" fill="#ff0000" stroke="#000" stroke-width="5"/>
<text x="1767.7" y="2546.4">j: f__UCG_010</text>
<rect x="1674.1" y="2572.8" width="67.4" height="24.2" fill="#008000" stroke="#000" stroke-width="5"/>
<text x="1767.7" y="2596.9">k: f__Peptococcaceae</text>
<rect x="1674.1" y="2623.3" width="67.4" height="24.2" fill="#008000" stroke="#000" stroke-width="5"/>
<text x="1767.7" y="2647.4">l: o__Peptococcales</text>
<rect x="1674.1" y="2673.8" width="67.4" height="24.2" fill="#008000" stroke="#000" stroke-width="5"/>
<text x="1767.7" y="2697.9">m: f__Enterobacteriaceae</text>
<rect x="1674.1" y="2724.3" width="67.4" height="24.2" fill="#008000" stroke="#000" stroke-width="5"/>
<text x="1767.7" y="2748.4">n: o__Enterobacterales</text>
<rect x="1674.1" y="2774.8" width="67.4" height="24.2" fill="#008000" stroke="#000" stroke-width="5"/>
<text x="1767.7" y="2798.9">o: c__Gammaproteobacteria</text>
</g>
</svg>
</body></html>
